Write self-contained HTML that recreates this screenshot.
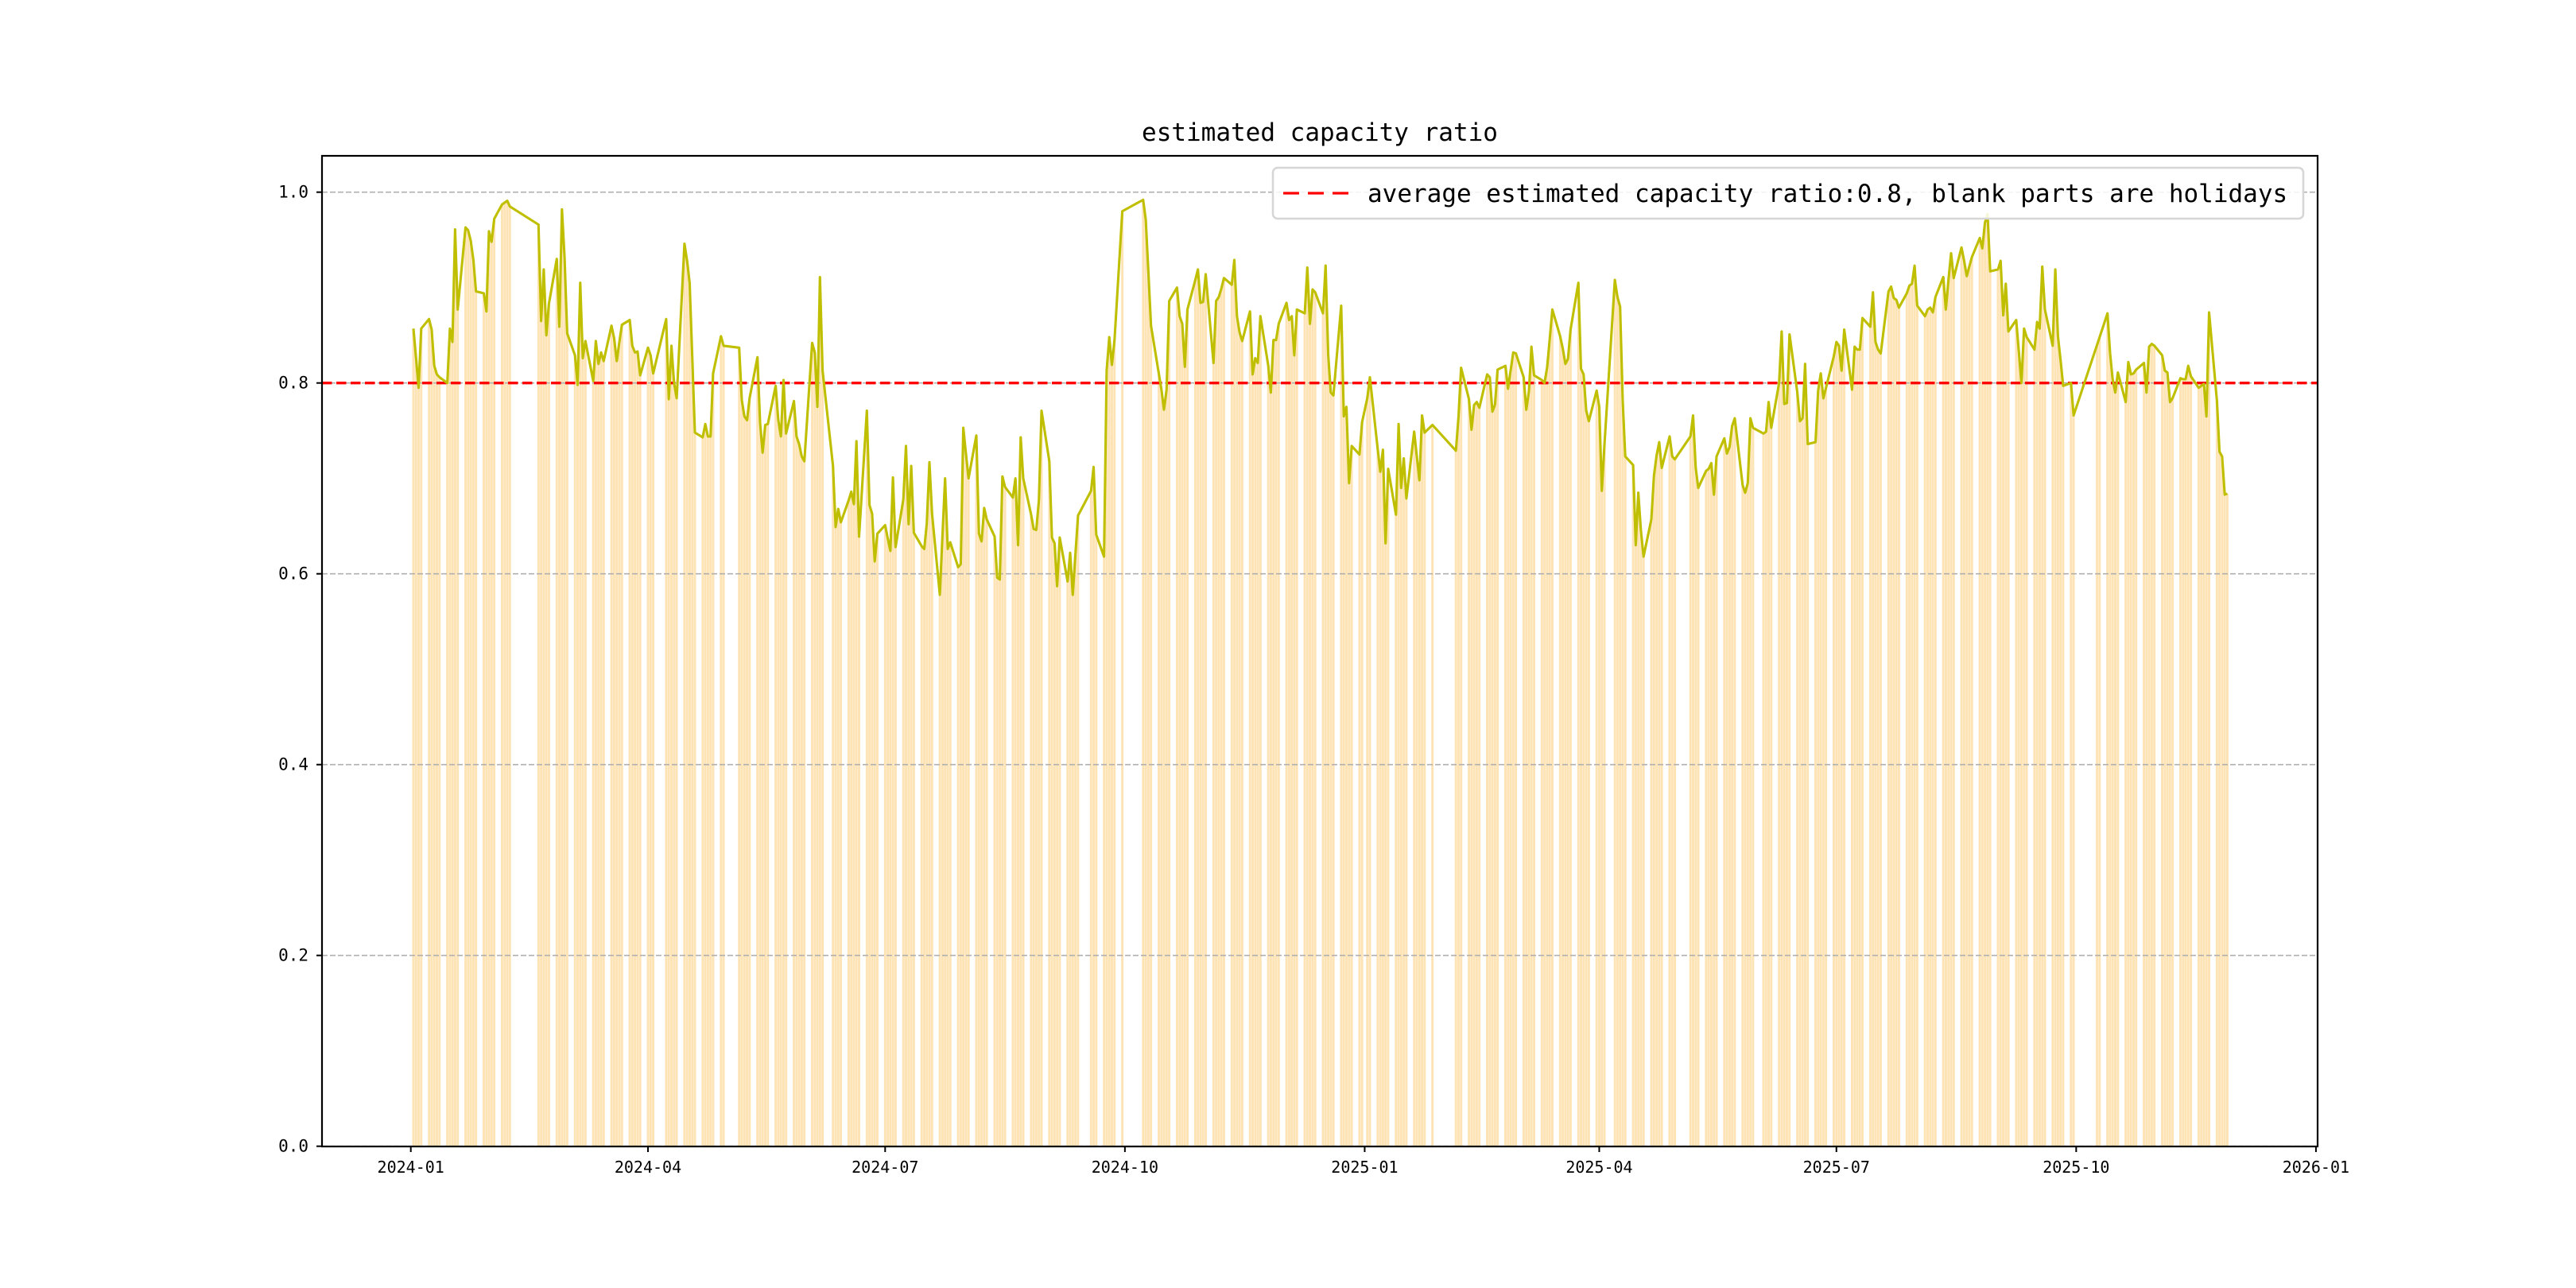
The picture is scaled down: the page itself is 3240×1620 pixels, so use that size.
<!DOCTYPE html>
<html><head><meta charset="utf-8"><style>
html,body{margin:0;padding:0;background:#fff;}
svg{display:block;font-family:"DejaVu Sans Mono","Liberation Mono",monospace;}
</style></head><body>
<svg id="chart" width="3240" height="1620" viewBox="0 0 3240 1620" xmlns="http://www.w3.org/2000/svg">
<rect x="0" y="0" width="3240" height="1620" fill="#fff"/>
<g id="bars"></g>
<g id="grid"></g>
<g id="avg"></g>
<g id="line"></g>
<g id="axes"></g>
<text x="1660" y="177" font-size="31" text-anchor="middle" fill="#000">estimated capacity ratio</text>
<g>
<rect x="1601" y="211" width="1296" height="64" rx="6" fill="#fff" fill-opacity="0.85" stroke="#d6d6d6" stroke-width="2.5"/>
<line x1="1614" y1="243" x2="1696" y2="243" stroke="#ff0000" stroke-width="3.3" stroke-dasharray="20,11"/>
<text x="1720" y="254" font-size="31" fill="#000">average estimated capacity ratio:0.8, blank parts are holidays</text>
</g>
</svg>
<script>
const holidays = ["2024-01-01","2024-02-09","2024-02-12","2024-02-13","2024-02-14","2024-02-15","2024-02-16","2024-04-04","2024-04-05","2024-05-01","2024-05-02","2024-05-03","2024-06-10","2024-09-16","2024-09-17","2024-10-01","2024-10-02","2024-10-03","2024-10-04","2024-10-07","2025-01-01","2025-01-28","2025-01-29","2025-01-30","2025-01-31","2025-02-03","2025-02-04","2025-04-04","2025-05-01","2025-05-02","2025-05-05","2025-06-02","2025-10-01","2025-10-02","2025-10-03","2025-10-06","2025-10-07","2025-10-08"];
const startDate = "2024-01-02";
const endDate = "2025-11-28";
const ratios = [
.857,.826,.795,.857,
.867,.856,.818,.809,.806,
.800,.857,.843,.961,.877,
.963,.960,.949,.929,.896,
.894,.875,.959,.948,.972,
.987,.989,.991,.985,
.966,.865,.919,.850,.883,
.930,.859,.982,.931,.852,
.829,.798,.905,.826,.844,
.802,.844,.820,.832,.823,
.860,.847,.823,.842,.861,
.866,.839,.832,.833,.808,
.837,.829,.810,
.867,.783,.839,.800,.784,
.946,.928,.905,.827,.748,
.743,.757,.744,.744,.810,
.849,.839,
.837,.782,.765,.761,.784,
.827,.758,.727,.756,.757,
.797,.761,.744,.803,.747,
.781,.744,.736,.723,.718,
.842,.832,.775,.911,.813,
.713,.649,.668,.654,
.677,.686,.673,.739,.639,
.771,.672,.663,.613,.642,
.651,.637,.624,.701,.628,
.678,.734,.652,.713,.643,
.629,.626,.653,.717,.663,
.578,.640,.700,.626,.633,
.607,.610,.753,.726,.700,
.745,.642,.634,.669,.657,
.639,.596,.594,.702,.691,
.680,.700,.630,.743,.700,
.662,.647,.646,.677,.771,
.718,.638,.632,.587,.638,
.592,.622,.578,.620,.661,
.687,.712,.641,
.618,.813,.848,.819,.845,
.980,
.992,.971,.916,.860,
.810,.793,.772,.793,.886,
.900,.870,.862,.817,.877,
.908,.919,.884,.885,.914,
.821,.886,.890,.899,.910,
.903,.929,.870,.853,.844,
.875,.809,.826,.821,.870,
.818,.790,.845,.845,.862,
.884,.866,.870,.829,.877,
.873,.921,.862,.898,.895,
.873,.923,.829,.790,.787,
.881,.765,.775,.695,.734,
.725,.759,
.784,.806,
.731,.707,.730,.632,.710,
.662,.757,.690,.721,.679,
.749,.723,.698,.766,.748,
.756,
.729,.765,.816,
.783,.751,.777,.780,.774,
.809,.806,.770,.777,.814,
.818,.794,.813,.832,.831,
.806,.772,.791,.838,.808,
.803,.800,.816,.846,.877,
.849,.836,.820,.825,.856,
.905,.815,.809,.771,.760,
.792,.775,.687,.735,
.908,.890,.880,.781,.723,
.714,.630,.685,.645,.618,
.657,.703,.724,.738,.711,
.744,.723,.720,
.744,.766,.711,.690,
.708,.710,.716,.683,.723,
.742,.726,.733,.755,.763,
.693,.685,.695,.763,.753,
.747,.749,.780,.753,
.800,.854,.778,.779,.851,
.790,.760,.763,.820,.736,
.738,.792,.810,.784,.795,
.828,.843,.839,.813,.856,
.793,.838,.835,.835,.868,
.859,.895,.843,.835,.831,
.896,.901,.889,.887,.879,
.894,.902,.904,.923,.881,
.870,.877,.879,.874,.890,
.911,.877,.908,.936,.910,
.942,.928,.912,.922,.932,
.952,.941,.968,.977,.917,
.919,.928,.871,.904,.854,
.866,.833,.800,.857,.848,
.835,.864,.857,.922,.877,
.839,.919,.849,.824,.797,
.800,.766,
.840,.848,
.873,.831,.804,.790,.811,
.780,.822,.809,.810,.814,
.821,.790,.838,.841,.839,
.829,.813,.811,.780,.784,
.805,.804,.804,.818,.807,
.795,.797,.799,.765,.874,
.781,.728,.723,.683,.684
];
const averageRatio = 0.8;
const yTicks = [0.0,0.2,0.4,0.6,0.8,1.0];
const yTickLabels = ["0.0","0.2","0.4","0.6","0.8","1.0"];
const xTicks = ["2024-01-01","2024-04-01","2024-07-01","2024-10-01","2025-01-01","2025-04-01","2025-07-01","2025-10-01","2026-01-01"];
const xTickLabels = ["2024-01","2024-04","2024-07","2024-10","2025-01","2025-04","2025-07","2025-10","2026-01"];

const NS="http://www.w3.org/2000/svg";
const AX={l:405,r:2915,t:196,b:1442};
const DAY=86400000;
const t0=Date.UTC(2024,0,1);
function dnum(s){const p=s.split("-");return (Date.UTC(+p[0],+p[1]-1,+p[2])-t0)/DAY;}
function X(d){return 516.7+3.278*d;}
function Y(v){return 1441.7-1200*v;}
function mk(tag,attrs,parent){const e=document.createElementNS(NS,tag);for(const k in attrs)e.setAttribute(k,attrs[k]);parent.appendChild(e);return e;}

const hol=new Set(holidays);
const dates=[];
for(let t=Date.UTC(2024,0,2);t<=Date.UTC(2025,10,28);t+=DAY){
  const d=new Date(t);const wd=d.getUTCDay();
  const s=d.toISOString().slice(0,10);
  if(wd===0||wd===6||hol.has(s))continue;
  dates.push(s);
}
const n=Math.min(dates.length,ratios.length);

const gb=document.getElementById("bars");
const bw=0.9*3.278;
for(let i=0;i<n;i++){
  const x=X(dnum(dates[i]));
  const r=mk("rect",{x:x-bw/2,y:Y(ratios[i]),width:bw,height:Y(0)-Y(ratios[i]),fill:"#fee3b5"},gb);
  
  
}
const gg=document.getElementById("grid");
yTicks.forEach(v=>{
  const l=mk("line",{x1:AX.l,x2:AX.r,y1:Y(v),y2:Y(v),stroke:"#b0b0b0","stroke-width":1.7,"stroke-dasharray":"7,3"},gg);
  
  
});
const ga=document.getElementById("avg");
const al=mk("line",{x1:AX.l,x2:AX.r,y1:Y(averageRatio),y2:Y(averageRatio),stroke:"#ff0000","stroke-width":3.3,"stroke-dasharray":"12.5,5.5"},ga);



const gl=document.getElementById("line");
let pts=[];
for(let i=0;i<n;i++)pts.push(X(dnum(dates[i])).toFixed(1)+","+Y(ratios[i]).toFixed(1));
const pl=mk("polyline",{points:pts.join(" "),fill:"none",stroke:"#bfbf00","stroke-width":3.1,"stroke-linejoin":"round"},gl);



const gx=document.getElementById("axes");
const fr=mk("rect",{x:AX.l,y:AX.t,width:AX.r-AX.l,height:AX.b-AX.t,fill:"none",stroke:"#000","stroke-width":2.2},gx);


yTicks.forEach((v,i)=>{
  const tk=mk("line",{x1:AX.l-7,x2:AX.l,y1:Y(v),y2:Y(v),stroke:"#000","stroke-width":2},gx);
  
  
  const tx=mk("text",{x:AX.l-17,y:Y(v)+7,"font-size":21,"text-anchor":"end",fill:"#000"},gx);
  tx.textContent=yTickLabels[i];
  
  
});
xTicks.forEach((s,i)=>{
  const x=X(dnum(s));
  const tk=mk("line",{x1:x,x2:x,y1:AX.b,y2:AX.b+7,stroke:"#000","stroke-width":2},gx);
  
  
  const tx=mk("text",{x:x,y:1475,"font-size":20,"text-anchor":"middle",fill:"#000"},gx);
  tx.textContent=xTickLabels[i];
  
  
});
</script>
</body></html>
